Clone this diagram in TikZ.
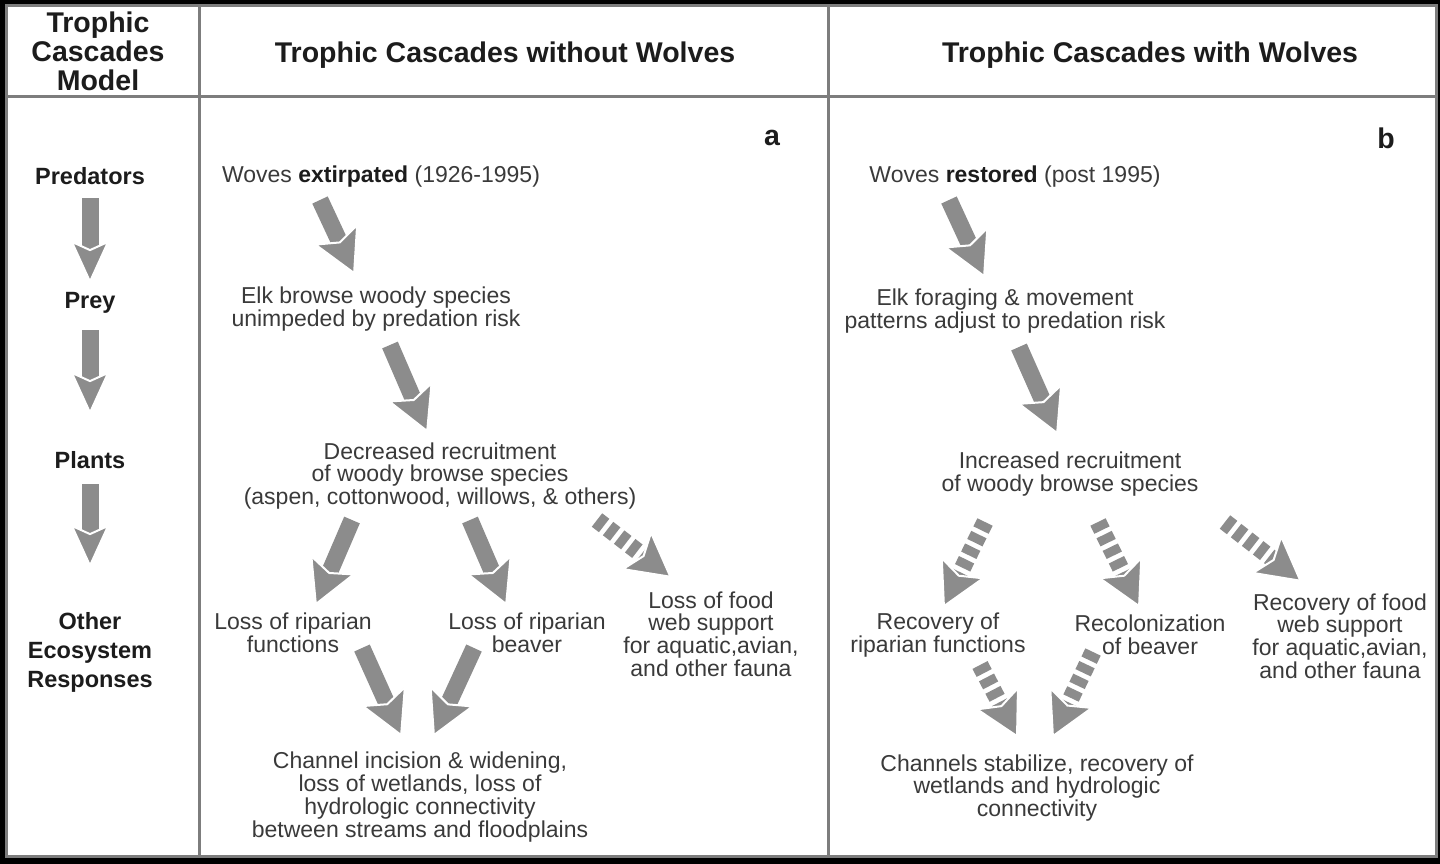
\documentclass[tikz,border=0pt]{standalone}
\usepackage{fontspec}
\setmainfont{Liberation Sans}
\usetikzlibrary{arrows.meta}
\definecolor{arrowgray}{RGB}{140,140,140}
\definecolor{txt}{RGB}{58,58,58}
\definecolor{hdr}{RGB}{28,28,28}
\definecolor{rulegray}{RGB}{125,125,125}
\newcommand{\bw}[1]{\textbf{\color{hdr}#1}}
\begin{document}
\begin{tikzpicture}[x=1pt,y=-1pt,
  hd/.style={inner sep=0pt, align=center, text=hdr, font=\fontsize{28.5}{29}\selectfont\bfseries},
  lab/.style={inner sep=0pt, align=center, text=hdr, font=\fontsize{23.5}{29}\selectfont\bfseries},
  body/.style={inner sep=0pt, align=center, text=txt, font=\fontsize{23}{22.7}\selectfont},
  bigarrow/.style={draw=arrowgray, line width=17pt,
    -{Stealth[length=46pt, width=50pt, inset=9pt, color=white, fill=arrowgray, line width=2pt]}},
  narrowarrow/.style={draw=arrowgray, line width=17pt,
    -{Stealth[length=44pt, width=40pt, inset=9pt, color=white, fill=arrowgray, line width=2pt]}},
  dasharrow/.style={bigarrow, dash pattern=on 9pt off 5pt}]
\useasboundingbox (0,0) rectangle (1440,864);
\fill[black] (0,0) rectangle (1440,864);
\fill[white, draw=rulegray, line width=3pt] (6,6) rectangle (1436,856);
\draw[rulegray, line width=3pt] (6,97) -- (1436,97);
\draw[rulegray, line width=3pt] (199,6) -- (199,856);
\draw[rulegray, line width=3pt] (828,6) -- (828,856);

% headers
\node[hd] (tcm) at (98,51) {Trophic\\Cascades\\Model};
\node[hd] (h1) at (505,55) {Trophic Cascades without Wolves};
\node[hd] (h2) at (1150,55) {Trophic Cascades with Wolves};
\node[hd] (la) at (772,138) {a};
\node[hd] (lb) at (1386,138) {b};

% left column
\node[lab] (pred) at (90,176) {Predators};
\node[lab] (prey) at (90,303) {Prey};
\node[lab] (plants) at (90,460) {Plants};
\node[lab] (other) at (90,652) {Other\\Ecosystem\\Responses};

% column a
\node[body] (woa) at (381,177) {Woves \bw{extirpated} (1926-1995)};
\node[body] (elka) at (376,309) {Elk browse woody species\\unimpeded by predation risk};
\node[body] (deca) at (440,476) {Decreased recruitment\\of woody browse species\\(aspen, cottonwood, willows, \& others)};
\node[body] (lrf) at (293,633) {Loss of riparian\\functions};
\node[body] (lrb) at (527,633) {Loss of riparian\\beaver};
\node[body] (lfw) at (711,634) {Loss of food\\web support\\for aquatic,avian,\\and other fauna};
\node[body] (chan) at (420,797) {Channel incision \& widening,\\loss of wetlands, loss of\\hydrologic connectivity\\between streams and floodplains};

% column b
\node[body] (wob) at (1015,177) {Woves \bw{restored} (post 1995)};
\node[body] (elkb) at (1005,311) {Elk foraging \& movement\\patterns adjust to predation risk};
\node[body] (incb) at (1070,474) {Increased recruitment\\of woody browse species};
\node[body] (rrf) at (938,635) {Recovery of\\riparian functions};
\node[body] (rcb) at (1150,635) {Recolonization\\of beaver};
\node[body] (rfw) at (1340,636) {Recovery of food\\web support\\for aquatic,avian,\\and other fauna};
\node[body] (chb) at (1037,788) {Channels stabilize, recovery of\\wetlands and hydrologic\\connectivity};

% arrow end points
\coordinate (l1s) at (90,198);  \coordinate (l1e) at (90,284);
\coordinate (l2s) at (90,330);  \coordinate (l2e) at (90,415);
\coordinate (l3s) at (90,484);  \coordinate (l3e) at (90,568);
\coordinate (a1s) at (320,200); \coordinate (a1e) at (355,275);
\coordinate (a2s) at (390,345); \coordinate (a2e) at (428,433);
\coordinate (a3s) at (352,520); \coordinate (a3e) at (315,606);
\coordinate (a4s) at (470,520); \coordinate (a4e) at (507,606);
\coordinate (a5s) at (597,520); \coordinate (a5e) at (672,578);
\coordinate (a6s) at (362,648); \coordinate (a6e) at (402,737);
\coordinate (a7s) at (474,648); \coordinate (a7e) at (433,737);
\coordinate (b1s) at (949,200); \coordinate (b1e) at (985,278);
\coordinate (b2s) at (1019,347); \coordinate (b2e) at (1058,435);
\coordinate (b3s) at (985,522); \coordinate (b3e) at (943,608);
\coordinate (b4s) at (1098,522); \coordinate (b4e) at (1140,608);
\coordinate (b5s) at (1225,522); \coordinate (b5e) at (1302,582);
\coordinate (b6s) at (980,665); \coordinate (b6e) at (1018,738);
\coordinate (b7s) at (1093,652); \coordinate (b7e) at (1052,738);

\draw[narrowarrow] (l1s) -- (l1e);
\draw[narrowarrow] (l2s) -- (l2e);
\draw[narrowarrow] (l3s) -- (l3e);
\draw[bigarrow] (a1s) -- (a1e);
\draw[bigarrow] (a2s) -- (a2e);
\draw[bigarrow] (a3s) -- (a3e);
\draw[bigarrow] (a4s) -- (a4e);
\draw[dasharrow] (a5s) -- (a5e);
\draw[bigarrow] (a6s) -- (a6e);
\draw[bigarrow] (a7s) -- (a7e);
\draw[bigarrow] (b1s) -- (b1e);
\draw[bigarrow] (b2s) -- (b2e);
\draw[dasharrow] (b3s) -- (b3e);
\draw[dasharrow] (b4s) -- (b4e);
\draw[dasharrow] (b5s) -- (b5e);
\draw[dasharrow] (b6s) -- (b6e);
\draw[dasharrow] (b7s) -- (b7e);
\end{tikzpicture}
\end{document}
